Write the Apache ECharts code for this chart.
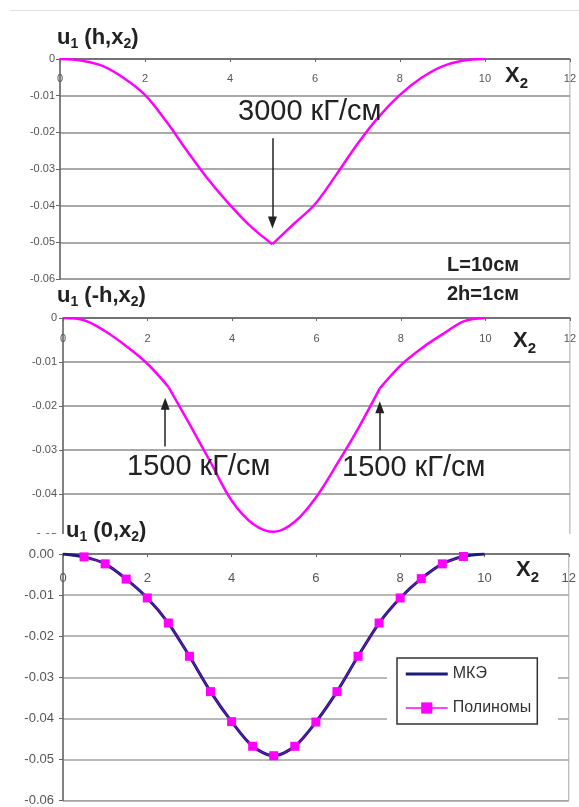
<!DOCTYPE html>
<html>
<head>
<meta charset="utf-8">
<script src="https://cdn.jsdelivr.net/npm/echarts@6/dist/echarts.min.js"></script>
<style>
  html, body { margin: 0; background: #fff; }
  #main { width: 579px; height: 807px; }
</style>
</head>
<body>
<div id="main"></div>
<script>
// x2 positions along the plate, cm
const xValues = [0, 0.5, 1, 1.5, 2, 2.5, 3, 3.5, 4, 4.5, 5, 5.5, 6, 6.5, 7, 7.5, 8, 8.5, 9, 9.5, 10];
// u1(h, x2)
const uTop = [0, -0.0004, -0.0019, -0.0052, -0.0098, -0.0170, -0.0252, -0.0330, -0.0398, -0.0458, -0.0505,
  -0.0450, -0.0396, -0.0316, -0.0232, -0.0158, -0.0098, -0.0052, -0.0020, -0.0004, 0];
// u1(-h, x2)
const uBottom = [0, -0.0005, -0.0030, -0.0064, -0.0104, -0.0157, -0.0242, -0.0329, -0.0416, -0.0468, -0.0486,
  -0.0462, -0.0406, -0.0330, -0.0249, -0.0160, -0.0107, -0.0068, -0.0036, -0.0007, 0];
// u1(0, x2), finite elements
const uMke = [0, -0.0007, -0.0024, -0.0061, -0.0107, -0.0168, -0.0249, -0.0335, -0.0408, -0.0468, -0.0491,
  -0.0468, -0.0409, -0.0335, -0.0249, -0.0168, -0.0107, -0.0060, -0.0024, -0.0006, 0];
// u1(0, x2), polynomials
const xPoly = [0.5, 1, 1.5, 2, 2.5, 3, 3.5, 4, 4.5, 5, 5.5, 6, 6.5, 7, 7.5, 8, 8.5, 9, 9.5];
const uPoly = [-0.0007, -0.0024, -0.0061, -0.0107, -0.0168, -0.0249, -0.0335, -0.0408, -0.0468, -0.0491,
  -0.0468, -0.0409, -0.0335, -0.0249, -0.0168, -0.0107, -0.0060, -0.0024, -0.0006];

function pairs(xs, ys, from, to) {
  return xs.slice(from, to).map((x, i) => [x, ys[from + i]]);
}

const FONT = 'Liberation Sans';
const axisColor = '#666';
const pink = '#ff00ff';

function xAxisFor(idx, size, margin) {
  return {
    gridIndex: idx, type: 'value', min: 0, max: 12, interval: 2, position: 'top',
    axisLine: { show: true, onZero: false, lineStyle: { color: axisColor, width: 1.5 } },
    axisTick: { show: true, inside: true, length: 3, lineStyle: { color: axisColor } },
    axisLabel: { inside: true, margin: margin, fontSize: size, color: '#555', fontFamily: FONT },
    splitLine: { show: false }
  };
}

function yAxisFor(idx, min, size, margin, fmt, gridColor) {
  return {
    gridIndex: idx, type: 'value', min: min, max: 0, interval: 0.01,
    axisLine: { show: true, onZero: false, lineStyle: { color: axisColor, width: 1.5 } },
    axisTick: { show: true, length: 4, lineStyle: { color: axisColor } },
    axisLabel: { fontSize: size, color: '#555', fontFamily: FONT, margin: margin, formatter: fmt },
    splitLine: { show: true, lineStyle: { color: gridColor, width: 1.5 } }
  };
}

const shortFmt = v => (Math.abs(v) < 1e-9 ? '0' : v.toFixed(2));
const longFmt = v => (Math.abs(v) < 1e-9 ? '0.00' : v.toFixed(2));

const titleRich = {
  b: { fontSize: 22, fontWeight: 'bold', fontFamily: FONT, fill: '#222' },
  s: { fontSize: 14, fontWeight: 'bold', fontFamily: FONT, fill: '#222', padding: [12, 0, 0, 0] }
};
const xRich = {
  b: { fontSize: 22, fontWeight: 'bold', fontFamily: FONT, fill: '#222' },
  s: { fontSize: 15, fontWeight: 'bold', fontFamily: FONT, fill: '#222', padding: [16, 0, 0, 0] }
};

function richText(x, y, text, rich) {
  return { type: 'text', x: x, y: y, z: 20,
    style: { text: text, rich: rich, align: 'left', verticalAlign: 'middle' } };
}
function plainText(x, y, text, size, weight) {
  return { type: 'text', x: x, y: y, z: 20,
    style: { text: text, fontSize: size, fontWeight: weight, fontFamily: FONT, fill: '#222',
      align: 'left', verticalAlign: 'middle' } };
}

const arrowLine = {
  silent: true,
  symbol: ['none', 'triangle'],
  symbolSize: [9, 12],
  lineStyle: { color: '#222', width: 1.5, type: 'solid' },
  label: { show: false },
  emphasis: { disabled: true }
};

function pinkCurve(axis, data, extra) {
  return Object.assign({
    type: 'line', xAxisIndex: axis, yAxisIndex: axis,
    data: data, symbol: 'none', smooth: 0.35,
    lineStyle: { color: pink, width: 2.5 }
  }, extra || {});
}

const chart = echarts.init(document.getElementById('main'));
chart.setOption({
  animation: false,
  backgroundColor: '#fff',
  textStyle: { fontFamily: FONT },
  grid: [
    { left: 60, top: 59, width: 513, height: 220, show: true, borderColor: '#aaa', borderWidth: 1, backgroundColor: 'transparent' },
    { left: 63, top: 318, width: 510, height: 220, show: true, borderColor: '#aaa', borderWidth: 1, backgroundColor: 'transparent' },
    { left: 63, top: 554, width: 509, height: 248, show: true, borderColor: '#aaa', borderWidth: 1, backgroundColor: 'transparent' }
  ],
  xAxis: [xAxisFor(0, 11, 14), xAxisFor(1, 11, 15), xAxisFor(2, 13, 18)],
  yAxis: [
    yAxisFor(0, -0.06, 11, 5, shortFmt, '#8c8c8c'),
    yAxisFor(1, -0.05, 11, 6, shortFmt, '#8c8c8c'),
    yAxisFor(2, -0.06, 13, 9, longFmt, '#a0a0a0')
  ],
  legend: {
    data: [
      { name: 'МКЭ', icon: 'path://M0,0 L42,0 L42,3 L0,3 Z', itemStyle: { color: '#1c1a80' } },
      { name: 'Полиномы', lineStyle: { opacity: 1, width: 1.5 } }
    ],
    orient: 'vertical', left: 397, top: 658,
    padding: [8, 6, 8, 8], itemGap: 18, itemWidth: 42, itemHeight: 14,
    backgroundColor: '#fff', borderColor: '#333', borderWidth: 1.5,
    textStyle: { fontSize: 16, color: '#333', fontFamily: FONT },
    selectedMode: false
  },
  series: [
    pinkCurve(0, pairs(xValues, uTop, 0, 11), {
      markLine: Object.assign({}, arrowLine, {
        data: [[{ coord: [5, -0.0216] }, { coord: [5, -0.0446] }]]
      })
    }),
    pinkCurve(0, pairs(xValues, uTop, 10, 21)),
    pinkCurve(1, pairs(xValues, uBottom, 0, 6), {
      markLine: Object.assign({}, arrowLine, {
        data: [
          [{ coord: [2.42, -0.0292] }, { coord: [2.42, -0.0195] }],
          [{ coord: [7.5, -0.0300] }, { coord: [7.5, -0.0203] }]
        ]
      })
    }),
    pinkCurve(1, pairs(xValues, uBottom, 5, 16)),
    pinkCurve(1, pairs(xValues, uBottom, 15, 21)),
    {
      name: 'МКЭ', type: 'line', xAxisIndex: 2, yAxisIndex: 2, z: 2,
      data: pairs(xValues, uMke, 0, 21), symbol: 'none', smooth: 0.3,
      itemStyle: { color: '#1c1a80' },
      lineStyle: { color: '#1c1a80', width: 3 }
    },
    {
      name: 'Полиномы', type: 'line', xAxisIndex: 2, yAxisIndex: 2, z: 3,
      data: pairs(xPoly, uPoly, 0, 19), symbol: 'rect', symbolSize: 9, showSymbol: true, smooth: 0.3,
      itemStyle: { color: pink },
      lineStyle: { color: pink, width: 1, opacity: 0.5 }
    }
  ],
  graphic: [
    { type: 'line', z: 20, shape: { x1: 10, y1: 10.5, x2: 579, y2: 10.5 }, style: { stroke: '#e2e2e2', lineWidth: 1 } },
    // covers the lower part of the middle chart, as in the original layout
    { type: 'rect', z: 15, shape: { x: 0, y: 534, width: 571, height: 13 }, style: { fill: '#fff' } },
    // white margin around the legend
    { type: 'rect', z: 1, shape: { x: 387, y: 646, width: 171, height: 84 }, style: { fill: '#fff' } },
    richText(57, 38, '{b|u}{s|1}{b| (h,x}{s|2}{b|)}', titleRich),
    richText(57, 296, '{b|u}{s|1}{b| (-h,x}{s|2}{b|)}', titleRich),
    richText(66, 531, '{b|u}{s|1}{b| (0,x}{s|2}{b|)}', titleRich),
    richText(505, 76, '{b|X}{s|2}', xRich),
    richText(513, 341, '{b|X}{s|2}', xRich),
    richText(516, 570, '{b|X}{s|2}', xRich),
    plainText(238, 112, '3000 кГ/см', 29, 'normal'),
    plainText(127, 467, '1500 кГ/см', 29, 'normal'),
    plainText(342, 468, '1500 кГ/см', 29, 'normal'),
    plainText(447, 265, 'L=10см', 20, 'bold'),
    plainText(447, 294, '2h=1см', 20, 'bold')
  ]
});
</script>
</body>
</html>
